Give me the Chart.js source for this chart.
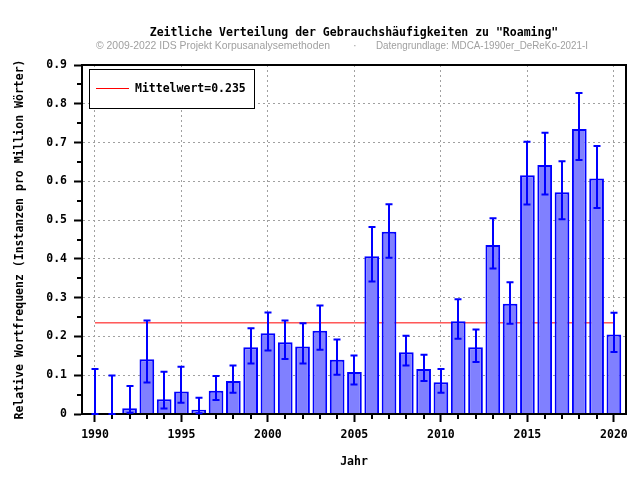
<!DOCTYPE html>
<html>
<head>
<meta charset="utf-8">
<script src="https://cdn.jsdelivr.net/npm/chart.js@4/dist/chart.umd.min.js"></script>
<style>
  body { margin: 0; background: #fff; }
  canvas { display: block; }
</style>
</head>
<body>
<canvas id="chart" width="640" height="480"></canvas>
<script>
const years = [1990, 1991, 1992, 1993, 1994, 1995, 1996, 1997, 1998, 1999,
  2000, 2001, 2002, 2003, 2004, 2005, 2006, 2007, 2008, 2009,
  2010, 2011, 2012, 2013, 2014, 2015, 2016, 2017, 2018, 2019, 2020];
const values = [0, 0, 0.015, 0.141, 0.038, 0.058, 0.011, 0.060, 0.085, 0.172,
  0.208, 0.185, 0.174, 0.215, 0.140, 0.108, 0.407, 0.470, 0.159, 0.116,
  0.082, 0.239, 0.172, 0.436, 0.284, 0.616, 0.642, 0.572, 0.735, 0.607, 0.205];
const lower = [0, 0, 0.003, 0.081, 0.014, 0.029, 0.002, 0.036, 0.055, 0.130,
  0.164, 0.142, 0.130, 0.166, 0.101, 0.076, 0.342, 0.403, 0.125, 0.085,
  0.055, 0.194, 0.134, 0.375, 0.233, 0.540, 0.566, 0.502, 0.655, 0.531, 0.160];
const upper = [0.116, 0.099, 0.072, 0.241, 0.109, 0.122, 0.042, 0.098, 0.125, 0.221,
  0.262, 0.241, 0.234, 0.280, 0.192, 0.151, 0.482, 0.541, 0.202, 0.153,
  0.116, 0.296, 0.218, 0.505, 0.340, 0.702, 0.725, 0.652, 0.828, 0.691, 0.261];
const mean = 0.235;
const meanLabel = 'Mittelwert=0.235';

const title = 'Zeitliche Verteilung der Gebrauchshäufigkeiten zu "Roaming"';
const subLeft = '© 2009-2022 IDS Projekt Korpusanalysemethoden';
const subRight = 'Datengrundlage: MDCA-1990er_DeReKo-2021-I';

const mono = '"DejaVu Sans Mono", monospace';
const tickFont = { family: mono, size: 11.5, weight: 'bold' };

// fits text into a given width (the original uses a narrow font)
function fitText(ctx, text, x, y, w) {
  const m = ctx.measureText(text).width;
  ctx.save();
  ctx.translate(x, y);
  ctx.scale(w / m, 1);
  ctx.fillText(text, 0, 0);
  ctx.restore();
}

const decorations = {
  id: 'decorations',
  afterDatasetsDraw(chart) {
    const { ctx, chartArea: a, scales: { x, y } } = chart;
    ctx.save();

    // minor ticks
    ctx.strokeStyle = '#000';
    ctx.lineWidth = 2;
    ctx.beginPath();
    years.forEach(yr => {
      if (yr % 5 === 0) return;
      const px = Math.round(x.getPixelForValue(yr));
      ctx.moveTo(px, a.bottom);
      ctx.lineTo(px, a.bottom + 5);
    });
    for (let v = 0.05; v < 0.9; v += 0.1) {
      const py = Math.round(y.getPixelForValue(v));
      ctx.moveTo(a.left - 5, py);
      ctx.lineTo(a.left, py);
    }
    ctx.stroke();

    // frame
    ctx.strokeRect(a.left, a.top, a.right - a.left, a.bottom - a.top);

    // error bars
    ctx.strokeStyle = '#0000ff';
    ctx.lineWidth = 2;
    ctx.beginPath();
    years.forEach((yr, i) => {
      const px = Math.round(x.getPixelForValue(yr));
      const lo = y.getPixelForValue(lower[i]);
      const hi = y.getPixelForValue(upper[i]);
      ctx.moveTo(px, lo);
      ctx.lineTo(px, hi);
      ctx.moveTo(px - 3.5, hi);
      ctx.lineTo(px + 3.5, hi);
      ctx.moveTo(px - 3.5, lo);
      ctx.lineTo(px + 3.5, lo);
    });
    ctx.stroke();

    // legend box
    ctx.fillStyle = '#fff';
    ctx.fillRect(89.5, 69.5, 165, 39);
    ctx.strokeStyle = '#000';
    ctx.lineWidth = 1;
    ctx.strokeRect(89.5, 69.5, 165, 39);
    ctx.strokeStyle = '#ff0000';
    ctx.beginPath();
    ctx.moveTo(96, 88.5);
    ctx.lineTo(129, 88.5);
    ctx.stroke();
    ctx.fillStyle = '#000';
    ctx.font = 'bold 11.5px ' + mono;
    ctx.textBaseline = 'middle';
    ctx.fillText(chart.data.datasets[1].label, 135, 89);

    // title and source line
    ctx.textAlign = 'center';
    ctx.fillText(title, (a.left + a.right) / 2, 33);
    ctx.textAlign = 'left';
    ctx.fillStyle = '#a0a0a0';
    ctx.font = '11px "Liberation Sans", sans-serif';
    fitText(ctx, subLeft, 96, 46, 234);
    fitText(ctx, subRight, 376, 46, 212);
    ctx.fillText('·', 353, 46);
    ctx.restore();
  }
};

new Chart(document.getElementById('chart'), {
  type: 'bar',
  data: {
    datasets: [{
      type: 'bar',
      label: 'Frequenz',
      data: years.map((yr, i) => ({ x: yr, y: values[i] })),
      backgroundColor: '#8080ff',
      borderColor: '#0000ff',
      borderWidth: 2,
      categoryPercentage: 1,
      barPercentage: 0.85,
      order: 1
    }, {
      type: 'line',
      label: meanLabel,
      data: [{ x: years[0], y: mean }, { x: years[years.length - 1], y: mean }],
      borderColor: '#ff0000',
      borderWidth: 1,
      pointRadius: 0,
      order: 2
    }]
  },
  options: {
    responsive: false,
    animation: false,
    devicePixelRatio: 1,
    layout: { padding: { top: 65, right: 14, left: 0, bottom: 0 } },
    plugins: {
      legend: { display: false },
      tooltip: { enabled: false }
    },
    scales: {
      x: {
        type: 'linear',
        min: 1989.25,
        max: 2020.7,
        offset: false,
        afterFit: s => { s.height = 66; },
        ticks: {
          stepSize: 5,
          includeBounds: false,
          maxRotation: 0,
          autoSkip: false,
          padding: 6,
          color: '#000',
          font: tickFont,
          callback: v => String(v)
        },
        grid: { offset: false, color: '#a0a0a0', lineWidth: 1, tickLength: 8, tickColor: '#000', tickWidth: 2 },
        border: { color: '#000', width: 2, dash: [2, 3] },
        title: { display: true, text: 'Jahr', color: '#000', font: tickFont, padding: { top: 4, bottom: 11 } }
      },
      y: {
        min: 0,
        max: 0.9,
        afterFit: s => { s.width = 82; },
        ticks: {
          stepSize: 0.1,
          padding: 7,
          color: '#000',
          font: tickFont,
          callback: v => v === 0 ? '0' : v.toFixed(1)
        },
        grid: { color: '#a0a0a0', lineWidth: 1, tickLength: 8, tickColor: '#000', tickWidth: 2 },
        border: { color: '#000', width: 2, dash: [2, 3] },
        title: {
          display: true,
          text: 'Relative Wortfrequenz (Instanzen pro Million Wörter)',
          color: '#000',
          font: tickFont,
          padding: { top: 13, bottom: 4 }
        }
      }
    }
  },
  plugins: [decorations]
});
</script>
</body>
</html>
